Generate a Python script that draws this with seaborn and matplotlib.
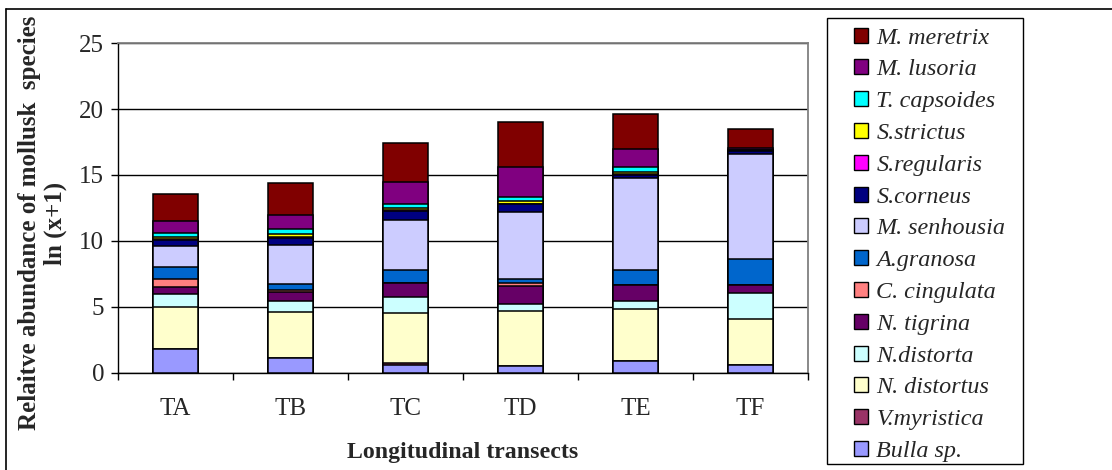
import matplotlib
matplotlib.use("Agg")
import matplotlib.pyplot as plt
import seaborn as sns
import numpy as np
import pandas as pd
from matplotlib.patches import Patch, Rectangle
from matplotlib.lines import Line2D

transects = ["TA", "TB", "TC", "TD", "TE", "TF"]

# species, bottom to top of stack
species = ["Bulla sp.", "V.myristica", "N. distortus", "N.distorta", "N. tigrina",
           "C. cingulata", "A.granosa", "M. senhousia", "S.corneus", "S.regularis",
           "S.strictus", "T. capsoides", "M. lusoria", "M. meretrix"]

bulla       = [1.83, 1.15, 0.60, 0.50, 0.88, 0.58]
v_myristica = [0.00, 0.00, 0.15, 0.00, 0.00, 0.00]
n_distortus = [3.15, 3.50, 3.80, 4.18, 3.98, 3.52]
n_distorta  = [0.98, 0.77, 1.22, 0.53, 0.56, 1.95]
n_tigrina   = [0.58, 0.68, 1.07, 1.37, 1.28, 0.65]
c_cingulata = [0.55, 0.15, 0.00, 0.20, 0.00, 0.00]
a_granosa   = [0.95, 0.50, 0.97, 0.33, 1.13, 1.94]
m_senhousia = [1.55, 2.92, 3.76, 5.06, 6.93, 7.93]
s_corneus   = [0.50, 0.55, 0.70, 0.60, 0.24, 0.25]
s_regularis = [0.05, 0.10, 0.05, 0.05, 0.05, 0.02]
s_strictus  = [0.20, 0.18, 0.20, 0.20, 0.14, 0.02]
t_capsoides = [0.30, 0.38, 0.25, 0.35, 0.43, 0.02]
m_lusoria   = [0.87, 1.12, 1.70, 2.24, 1.33, 0.20]
m_meretrix  = [2.05, 2.40, 2.95, 3.40, 2.65, 1.38]

values = [bulla, v_myristica, n_distortus, n_distorta, n_tigrina, c_cingulata,
          a_granosa, m_senhousia, s_corneus, s_regularis, s_strictus,
          t_capsoides, m_lusoria, m_meretrix]

colors = ["#9999FF", "#993366", "#FFFFCC", "#CCFFFF", "#660066", "#FF8080",
          "#0066CC", "#CCCCFF", "#000080", "#FF00FF", "#FFFF00", "#00FFFF",
          "#800080", "#800000"]

sns.set_theme(style="white")
plt.rcParams["font.family"] = ["Liberation Serif", "DejaVu Serif"]

fig = plt.figure(figsize=(11.12, 4.70), dpi=100)
ax = fig.add_axes([0.1061, 0.2064, 0.6205, 0.7021])

cum = np.cumsum(np.array(values), axis=0)
# draw from top of stack downwards so lower segments overlay
for i in range(len(species) - 1, -1, -1):
    d = pd.DataFrame({"transect": transects, "total": cum[i]})
    sns.barplot(data=d, x="transect", y="total", order=transects, color=colors[i],
                saturation=1, width=0.39, edgecolor="black", linewidth=1.1,
                ax=ax, zorder=3)

ax.set_ylim(0, 25)
ax.set_xlim(-0.5, 5.5)
ax.set_yticks([0, 5, 10, 15, 20, 25])
ax.yaxis.grid(True, color="black", linewidth=1.0, zorder=0)
ax.set_axisbelow(True)
for s in ["left", "bottom"]:
    ax.spines[s].set_color("black")
    ax.spines[s].set_linewidth(1.0)
for s in ["top", "right"]:
    ax.spines[s].set_color("#808080")
    ax.spines[s].set_linewidth(1.3)

ax.tick_params(axis="y", which="major", direction="out", length=5, width=1,
               color="black", labelsize=18, pad=5, left=True)
ax.tick_params(axis="x", which="major", length=0, labelsize=18, pad=18)
ax.set_xticks(np.arange(-0.5, 6.0, 1.0), minor=True)
ax.tick_params(axis="x", which="minor", direction="out", length=5, width=1,
               color="black", bottom=True)

ax.set_xlabel("Longitudinal transects", fontsize=17.2, fontweight="bold", labelpad=16)
ax.set_ylabel("")
fig.text(0.038, 0.525, "Relaitve abundance of mollusk  species\nln (x+1)",
         rotation=90, ha="center", va="center", fontsize=18, fontweight="bold",
         linespacing=1.15)

handles = [Patch(facecolor=colors[i], edgecolor="black", linewidth=1.0)
           for i in range(len(species) - 1, -1, -1)]
labels = [species[i] for i in range(len(species) - 1, -1, -1)]
leg = fig.legend(handles, labels, loc="upper left",
                 bbox_to_anchor=(854 / 1112, 1 - 27.5 / 470),
                 frameon=False,
                 prop={"family": ["Liberation Serif"], "style": "italic", "size": 17.4},
                 handlelength=0.58, handleheight=0.58, handletextpad=0.35,
                 labelspacing=0.445, borderpad=0, borderaxespad=0)

# legend frame
fig.add_artist(Rectangle((827 / 1112, 1 - 464 / 470), (1023 - 827) / 1112,
                         (464 - 18) / 470, transform=fig.transFigure,
                         fill=False, edgecolor="black", linewidth=1.0))

# outer chart frame (top and left edges visible)
fig.add_artist(Line2D([6 / 1112, 1.0], [1 - 9 / 470, 1 - 9 / 470],
                      transform=fig.transFigure, color="black", linewidth=1.2))
fig.add_artist(Line2D([6 / 1112, 6 / 1112], [0, 1 - 9 / 470],
                      transform=fig.transFigure, color="black", linewidth=1.2))

fig.savefig("out.png", dpi=100, facecolor="white")
